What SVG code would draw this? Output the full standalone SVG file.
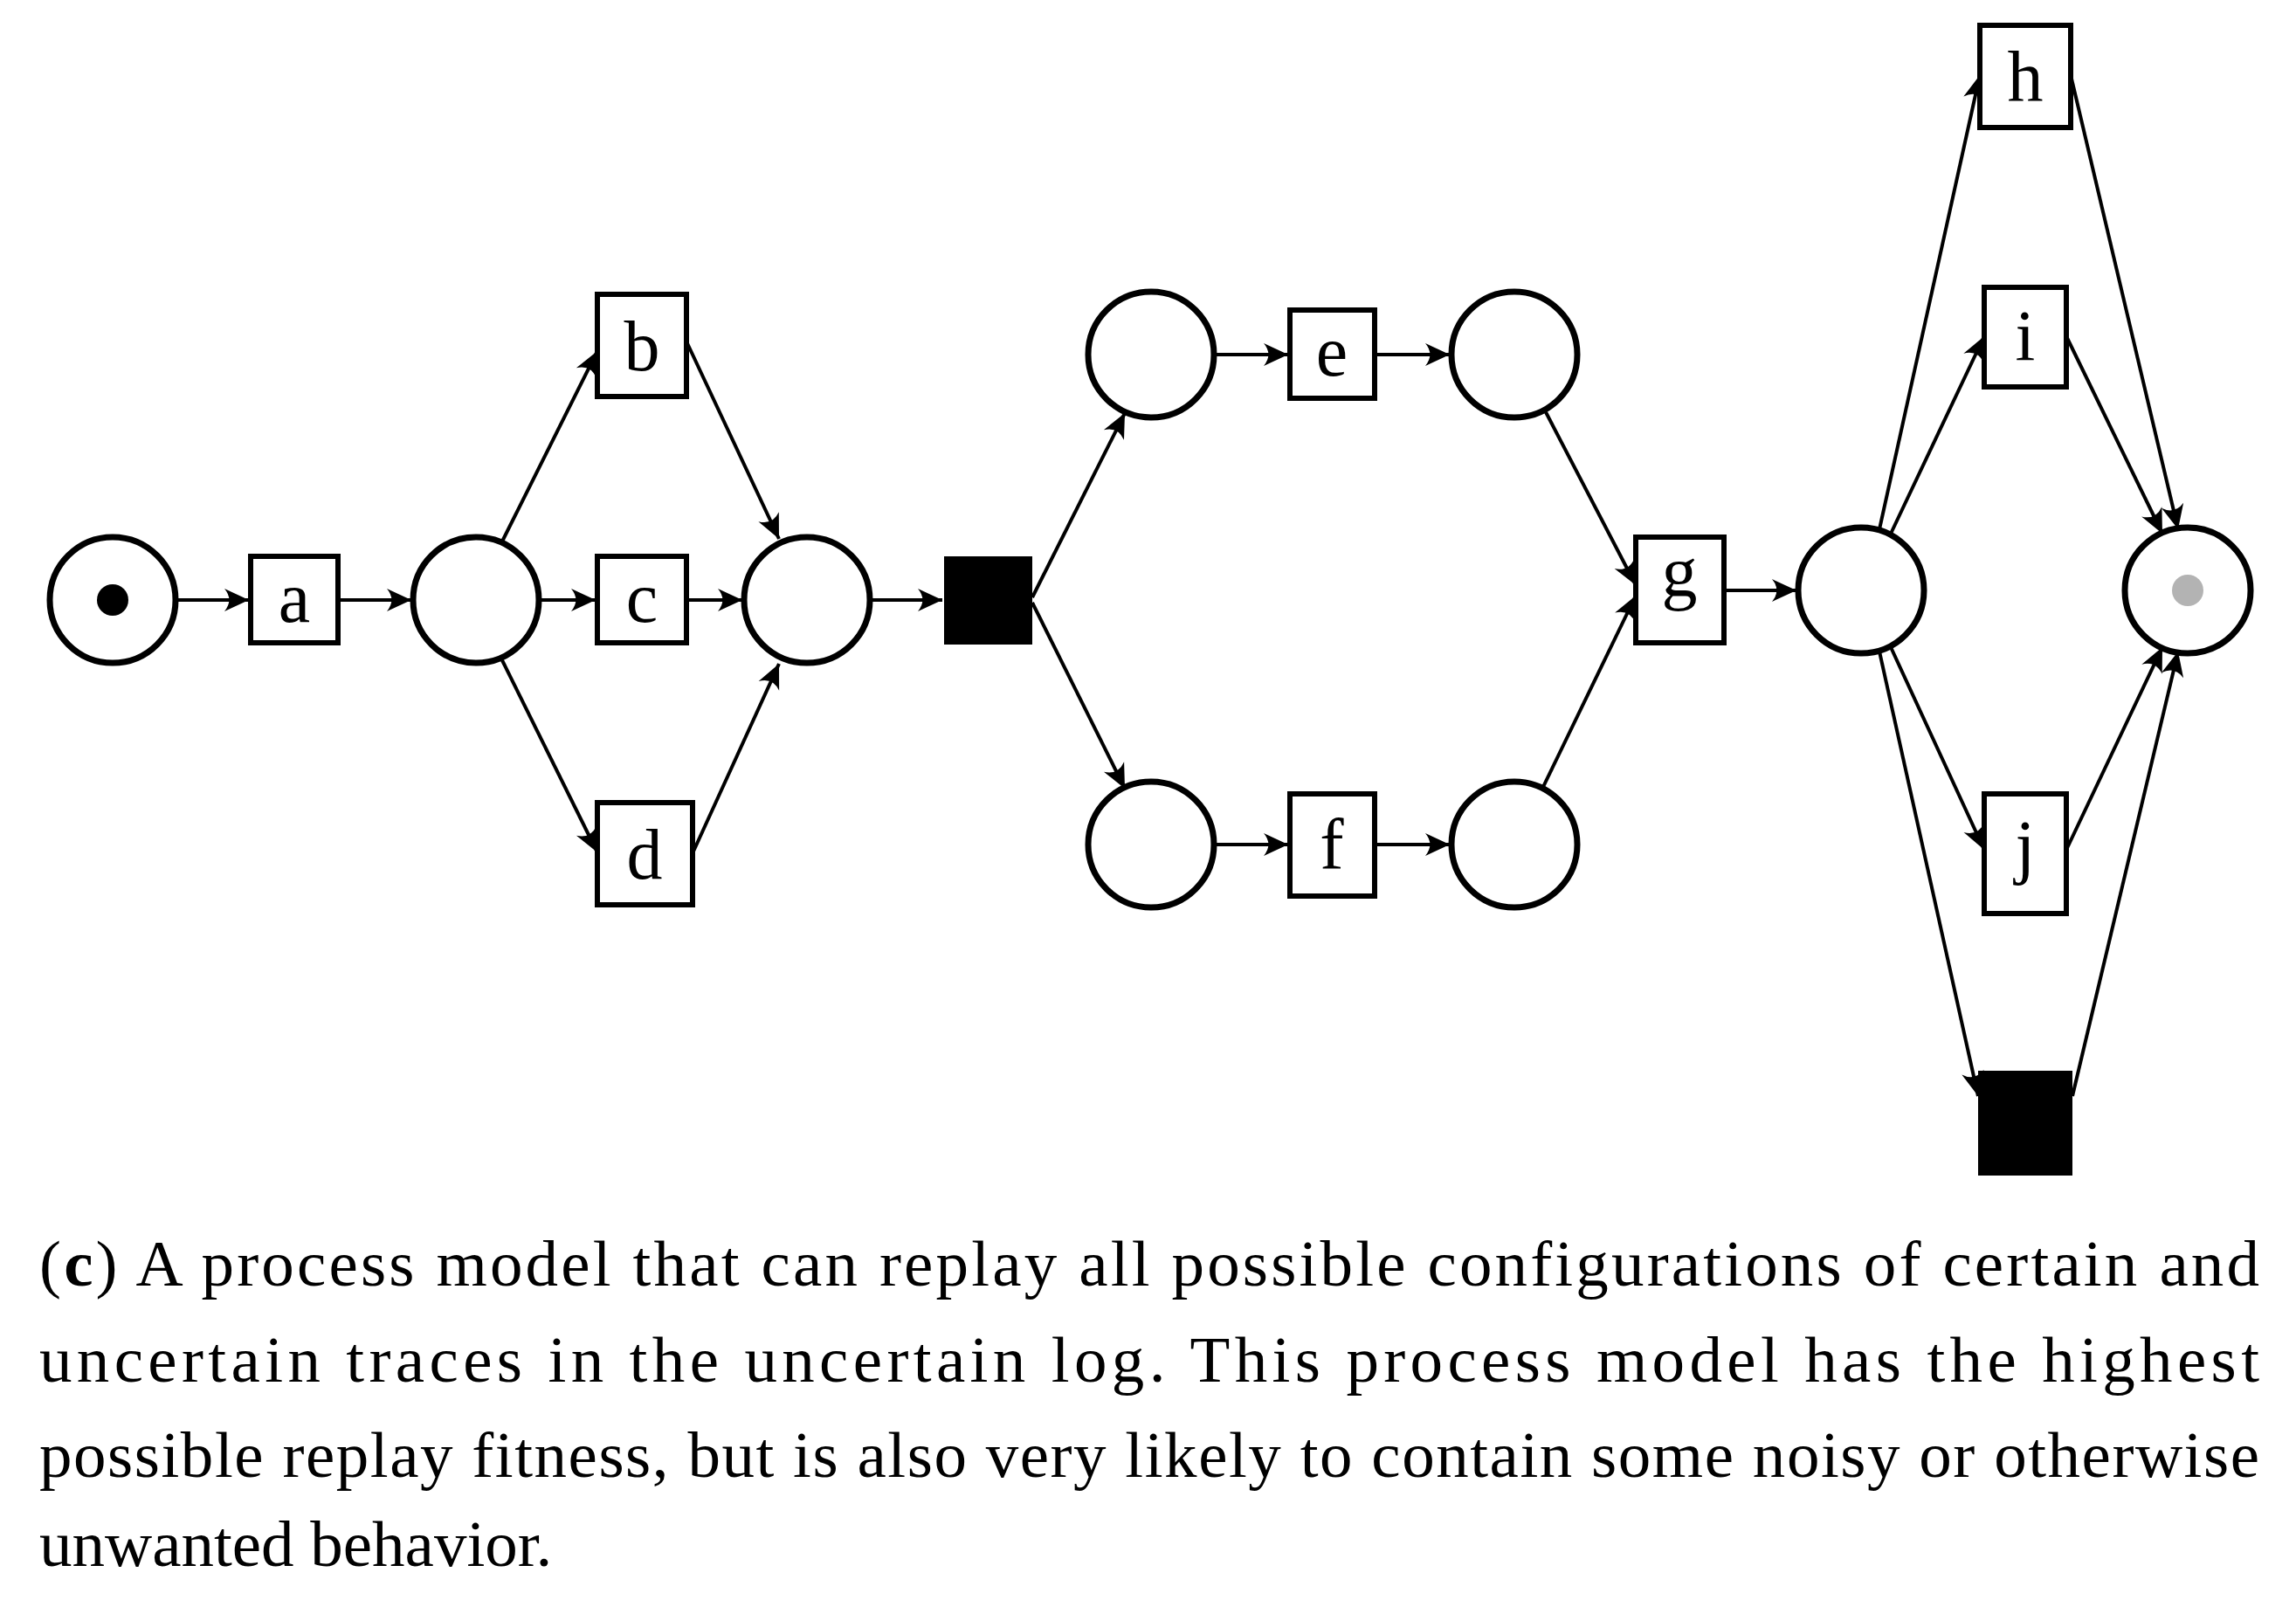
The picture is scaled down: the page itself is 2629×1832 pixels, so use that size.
<svg xmlns="http://www.w3.org/2000/svg" width="2629" height="1832" viewBox="0 0 2629 1832">
<style>
.p{fill:#fff;stroke:#000;stroke-width:7}
.t{fill:#fff;stroke:#000;stroke-width:6}
.s{fill:#000}
.l{font-family:"Liberation Serif",serif;font-size:82px;text-anchor:middle}
.e line{stroke:#000;stroke-width:4;marker-end:url(#ar)}
.cap{font-family:"Liberation Serif",serif;font-size:75px}
</style>
<defs>
<marker id="ar" markerUnits="userSpaceOnUse" markerWidth="34" markerHeight="28" viewBox="-28 -13 30 26" refX="0" refY="0" orient="auto">
<path d="M0,0 L-26,-12 Q-16,0 -26,12 Z" fill="#000"/>
</marker>
</defs>
<rect width="2629" height="1832" fill="#fff"/>
<g class="e" id="connectors">
<line x1="201" y1="687" x2="285" y2="687"/>
<line x1="387" y1="687" x2="471" y2="687"/>
<line x1="575" y1="620" x2="684" y2="402"/>
<line x1="617" y1="687" x2="682" y2="687"/>
<line x1="575" y1="756" x2="684" y2="976"/>
<line x1="786" y1="391" x2="892" y2="617"/>
<line x1="786" y1="687" x2="850" y2="687"/>
<line x1="793" y1="977" x2="892" y2="760"/>
<line x1="996" y1="687" x2="1079" y2="687"/>
<line x1="1182" y1="684" x2="1288" y2="473"/>
<line x1="1182" y1="690" x2="1288" y2="903"/>
<line x1="1390" y1="406" x2="1475" y2="406"/>
<line x1="1574" y1="406" x2="1660" y2="406"/>
<line x1="1390" y1="967" x2="1475" y2="967"/>
<line x1="1574" y1="967" x2="1660" y2="967"/>
<line x1="1769" y1="470" x2="1873" y2="670"/>
<line x1="1766" y1="903" x2="1873" y2="682"/>
<line x1="1974" y1="676" x2="2057" y2="676"/>
<line x1="2152" y1="606" x2="2267" y2="86"/>
<line x1="2165" y1="611" x2="2272" y2="385"/>
<line x1="2165" y1="741" x2="2272" y2="973"/>
<line x1="2152" y1="746" x2="2265" y2="1255"/>
<line x1="2371" y1="86" x2="2494" y2="606"/>
<line x1="2366" y1="385" x2="2476" y2="611"/>
<line x1="2366" y1="973" x2="2476" y2="741"/>
<line x1="2373" y1="1255" x2="2494" y2="746"/>
</g>
<g id="p0"><circle class="p" cx="129" cy="687" r="72"/><circle cx="129" cy="687" r="18" fill="#000"/></g>
<g id="a"><rect class="t" x="287" y="637" width="100" height="99"/><text class="l" x="337" y="712">a</text></g>
<g id="p1"><circle class="p" cx="545" cy="687" r="72"/></g>
<g id="b"><rect class="t" x="684" y="337" width="102" height="117"/><text class="l" x="735" y="424">b</text></g>
<g id="c"><rect class="t" x="684" y="637" width="102" height="99"/><text class="l" x="735" y="712">c</text></g>
<g id="d"><rect class="t" x="684" y="919" width="109" height="117"/><text class="l" x="738" y="1006">d</text></g>
<g id="p2"><circle class="p" cx="924" cy="687" r="72"/></g>
<g id="tau1"><rect class="s" x="1081" y="637" width="101" height="101"/></g>
<g id="p3"><circle class="p" cx="1318" cy="406" r="72"/></g>
<g id="e"><rect class="t" x="1477" y="355" width="97" height="101"/><text class="l" x="1525" y="430">e</text></g>
<g id="p4"><circle class="p" cx="1734" cy="406" r="72"/></g>
<g id="p5"><circle class="p" cx="1318" cy="967" r="72"/></g>
<g id="f"><rect class="t" x="1477" y="909" width="97" height="117"/><text class="l" x="1525" y="995">f</text></g>
<g id="p6"><circle class="p" cx="1734" cy="967" r="72"/></g>
<g id="g"><rect class="t" x="1873" y="615" width="101" height="121"/><text class="l" x="1923" y="682">g</text></g>
<g id="p7"><circle class="p" cx="2131" cy="676" r="72"/></g>
<g id="h"><rect class="t" x="2267" y="29" width="104" height="117"/><text class="l" x="2319" y="115">h</text></g>
<g id="i"><rect class="t" x="2272" y="329" width="94" height="114"/><text class="l" x="2319" y="412">i</text></g>
<g id="j"><rect class="t" x="2272" y="909" width="94" height="137"/><text class="l" x="2319" y="996">j</text></g>
<g id="tau2"><rect class="s" x="2265" y="1226" width="108" height="120"/></g>
<g id="pend"><circle class="p" cx="2505" cy="676" r="72"/><circle cx="2505" cy="676" r="18" fill="#b3b3b3"/></g>
<g id="caption">
<text class="cap" x="45" y="1472" textLength="2542" lengthAdjust="spacing">(<tspan font-weight="bold">c</tspan>) A process model that can replay all possible configurations of certain and</text>
<text class="cap" x="45" y="1582" textLength="2542" lengthAdjust="spacing">uncertain traces in the uncertain log.  This process model has the highest</text>
<text class="cap" x="45" y="1691" textLength="2542" lengthAdjust="spacing">possible replay fitness, but is also very likely to contain some noisy or otherwise</text>
<text class="cap" x="45" y="1793">unwanted behavior.</text>
</g>
</svg>
